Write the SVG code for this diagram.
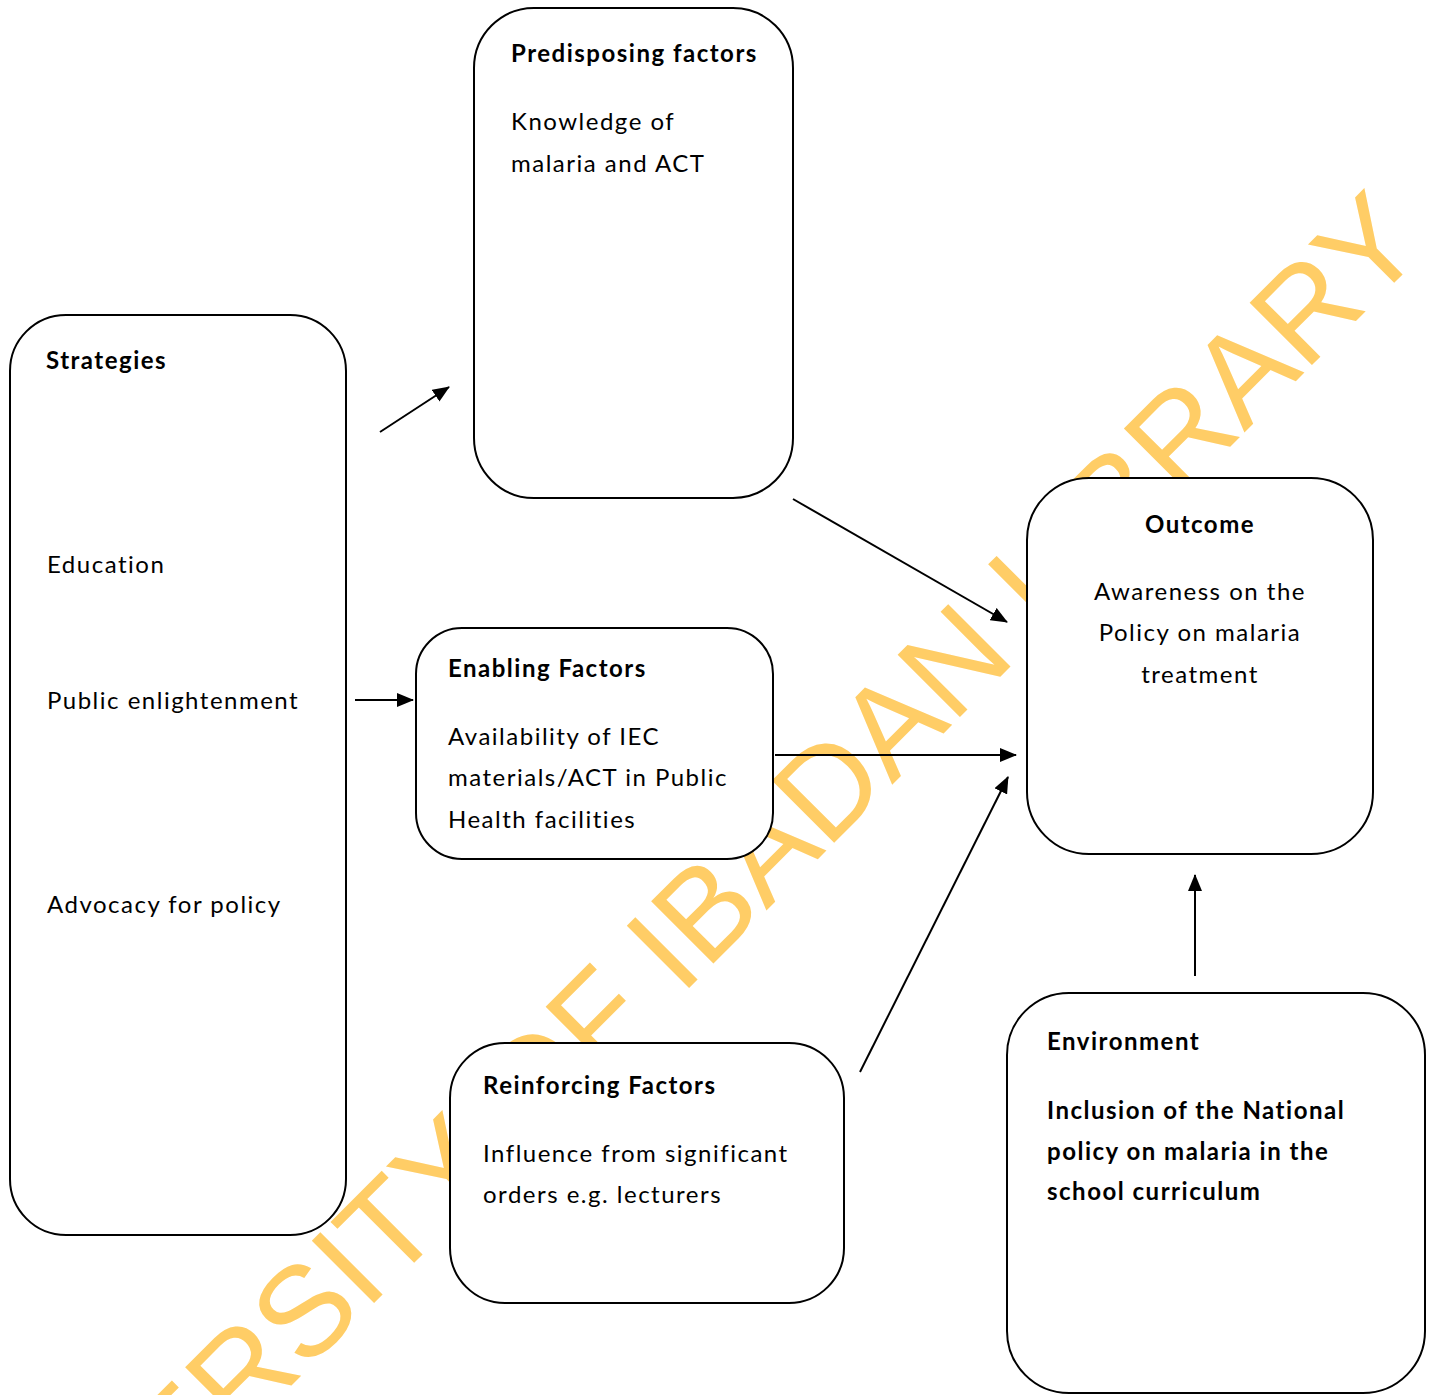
<svg xmlns="http://www.w3.org/2000/svg" width="1434" height="1395" viewBox="0 0 1434 1395">
<style>
.box{fill:#fff;stroke:#000;stroke-width:2}
.t{font-family:Lato,"Liberation Sans",sans-serif;font-size:24px;letter-spacing:1.5px;fill:#000}
.b{font-weight:700}
.wm{font-family:"Liberation Sans",Arial,sans-serif;font-size:128px;fill:#FFCD66}
.c line{stroke:#000;stroke-width:2;marker-end:url(#ah)}
</style>
<defs>
<marker id="ah" markerUnits="userSpaceOnUse" markerWidth="18" markerHeight="14" refX="16" refY="7" orient="auto">
<path d="M0,0 L17,7 L0,14 z" fill="#000"/>
</marker>
</defs>
<rect width="1434" height="1395" fill="#fff"/>
<text class="wm" x="696" y="981" text-anchor="middle" transform="rotate(-45 696 981)">UNIVERSITY OF IBADAN LIBRARY</text>
<g id="predisposing">
<rect class="box" x="474" y="8" width="319" height="490" rx="60" ry="60"/>
<text class="t b" x="511" y="62">Predisposing factors</text>
<text class="t" x="511" y="130">Knowledge of</text>
<text class="t" x="511" y="172">malaria and ACT</text>
</g>
<g id="strategies">
<rect class="box" x="10" y="315" width="336" height="920" rx="56" ry="56"/>
<text class="t b" x="46" y="369">Strategies</text>
<text class="t" x="47" y="573">Education</text>
<text class="t" x="47" y="709">Public enlightenment</text>
<text class="t" x="47" y="913">Advocacy for policy</text>
</g>
<g id="enabling">
<rect class="box" x="416" y="628" width="357" height="231" rx="46" ry="46"/>
<text class="t b" x="448" y="677">Enabling Factors</text>
<text class="t" x="448" y="745">Availability of IEC</text>
<text class="t" x="448" y="786">materials/ACT in Public</text>
<text class="t" x="448" y="828">Health facilities</text>
</g>
<g id="outcome">
<rect class="box" x="1027" y="478" width="346" height="376" rx="62" ry="62"/>
<text class="t b" x="1200" y="533" text-anchor="middle">Outcome</text>
<text class="t" x="1200" y="600" text-anchor="middle">Awareness on the</text>
<text class="t" x="1200" y="641" text-anchor="middle">Policy on malaria</text>
<text class="t" x="1200" y="683" text-anchor="middle">treatment</text>
</g>
<g id="reinforcing">
<rect class="box" x="450" y="1043" width="394" height="260" rx="55" ry="55"/>
<text class="t b" x="483" y="1094">Reinforcing Factors</text>
<text class="t" x="483" y="1162">Influence from significant</text>
<text class="t" x="483" y="1203">orders e.g. lecturers</text>
</g>
<g id="environment">
<rect class="box" x="1007" y="993" width="418" height="400" rx="62" ry="62"/>
<text class="t b" x="1047" y="1050">Environment</text>
<text class="t b" x="1047" y="1119">Inclusion of the National</text>
<text class="t b" x="1047" y="1160">policy on malaria in the</text>
<text class="t b" x="1047" y="1200">school curriculum</text>
</g>
<g id="connectors" class="c">
<line x1="380" y1="432" x2="449" y2="387"/>
<line x1="355" y1="700" x2="413" y2="700"/>
<line x1="793" y1="499" x2="1007" y2="622"/>
<line x1="775" y1="755" x2="1016" y2="755"/>
<line x1="860" y1="1072" x2="1008" y2="777"/>
<line x1="1195" y1="976" x2="1195" y2="875"/>
</g>
</svg>
